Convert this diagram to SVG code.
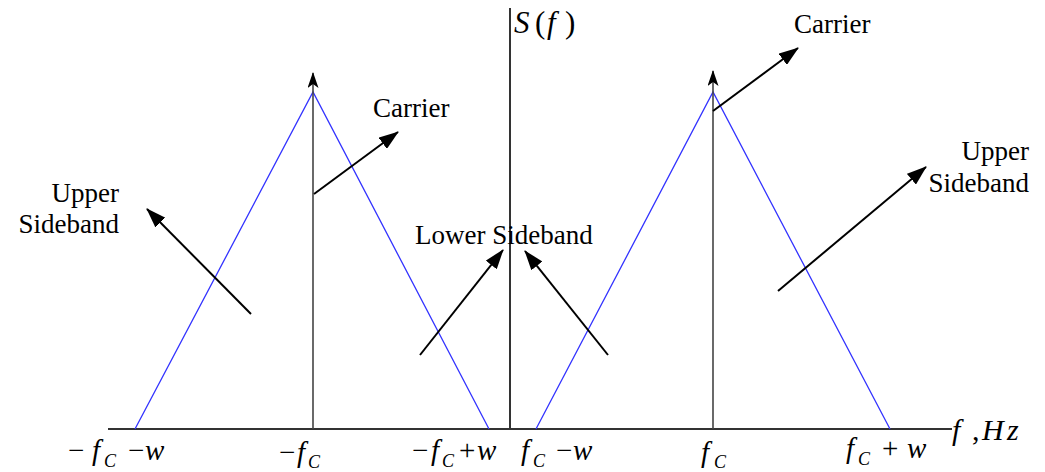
<svg xmlns="http://www.w3.org/2000/svg" width="1045" height="472" viewBox="0 0 1045 472">
<style>
.t{font-family:"Liberation Serif","Times New Roman",serif;font-size:27px;fill:#000}
.m{font-family:"Liberation Serif","Times New Roman",serif;font-size:29px;fill:#000}
.i{font-style:italic}
.s{font-family:"Liberation Serif","Times New Roman",serif;font-size:18px;font-style:italic;fill:#000}
.axis{stroke:#333;stroke-width:2;fill:none}
.car{stroke:#444;stroke-width:1.6;fill:none}
.band{stroke:#3333ff;stroke-width:1.3;fill:none}
.arr{stroke:#000;stroke-width:2;fill:none;marker-end:url(#ah)}
</style>
<defs>
<marker id="ah" viewBox="0 0 20 14" refX="19" refY="7" markerWidth="20" markerHeight="14" markerUnits="userSpaceOnUse" orient="auto">
<path d="M0,0 L20,7 L0,14 z" fill="#000"/>
</marker>
<marker id="ah2" viewBox="0 0 16 11" refX="15" refY="5.5" markerWidth="16" markerHeight="11" markerUnits="userSpaceOnUse" orient="auto">
<path d="M0,0 L16,5.5 L0,11 L4,5.5 z" fill="#000"/>
</marker>
</defs>
<rect width="1045" height="472" fill="#fff"/>
<g id="axes">
<line class="axis" x1="108" y1="429" x2="952" y2="429"/>
<line class="axis" x1="510" y1="8" x2="510" y2="430"/>
</g>
<g id="spectrum-left">
<polyline class="band" points="135,429 313,92 489,429"/>
<line class="car" x1="313" y1="429" x2="313" y2="73" marker-end="url(#ah2)"/>
</g>
<g id="spectrum-right">
<polyline class="band" points="536,429 713,92 890,429"/>
<line class="car" x1="713" y1="429" x2="713" y2="71" marker-end="url(#ah2)"/>
</g>
<g id="connectors">
<line class="arr" x1="314" y1="194" x2="398" y2="132"/>
<line class="arr" x1="713" y1="111" x2="798" y2="48"/>
<line class="arr" x1="778" y1="291" x2="926" y2="167"/>
<line class="arr" x1="251" y1="314" x2="147" y2="209"/>
<line class="arr" x1="420" y1="355" x2="503" y2="250"/>
<line class="arr" x1="608" y1="355" x2="525" y2="251"/>
</g>
<g id="label-sf"><text class="m" y="33" style="font-size:31px"><tspan class="i" x="514">S</tspan><tspan x="535">(</tspan><tspan class="i" x="547">f</tspan><tspan x="565">)</tspan></text></g>
<g id="label-carrier-left"><text class="t" x="373" y="117">Carrier</text></g>
<g id="label-carrier-right"><text class="t" x="794" y="33">Carrier</text></g>
<g id="label-usb-left"><text class="t" text-anchor="end"><tspan x="119" y="202">Upper</tspan><tspan x="119" y="233">Sideband</tspan></text></g>
<g id="label-usb-right"><text class="t" text-anchor="end"><tspan x="1029" y="160">Upper</tspan><tspan x="1029" y="192">Sideband</tspan></text></g>
<g id="label-lsb"><text class="t" x="415" y="244">Lower Sideband</text></g>
<g id="tick-1"><text class="m" y="460"><tspan x="68">−</tspan><tspan class="i" x="92">f</tspan><tspan x="128">−</tspan><tspan class="i" x="145">w</tspan></text><text class="s" x="104" y="467">C</text></g>
<g id="tick-2"><text class="m" y="462"><tspan x="279">−</tspan><tspan class="i" x="297">f</tspan></text><text class="s" x="308" y="468">C</text></g>
<g id="tick-3"><text class="m" y="460"><tspan x="412">−</tspan><tspan class="i" x="431">f</tspan><tspan x="459">+</tspan><tspan class="i" x="477">w</tspan></text><text class="s" x="442" y="467">C</text></g>
<g id="tick-4"><text class="m" y="460"><tspan class="i" x="521">f</tspan><tspan x="556">−</tspan><tspan class="i" x="573">w</tspan></text><text class="s" x="533" y="467">C</text></g>
<g id="tick-5"><text class="m" y="462"><tspan class="i" x="701">f</tspan></text><text class="s" x="714" y="468">C</text></g>
<g id="tick-6"><text class="m" y="458"><tspan class="i" x="846">f</tspan><tspan x="882">+</tspan><tspan class="i" x="907">w</tspan></text><text class="s" x="858" y="465">C</text></g>
<g id="label-fhz"><text class="m" y="440" style="font-size:30px"><tspan class="i" x="952">f</tspan><tspan x="972">,</tspan><tspan class="i" x="982">H</tspan><tspan class="i" x="1007">z</tspan></text></g>
</svg>
